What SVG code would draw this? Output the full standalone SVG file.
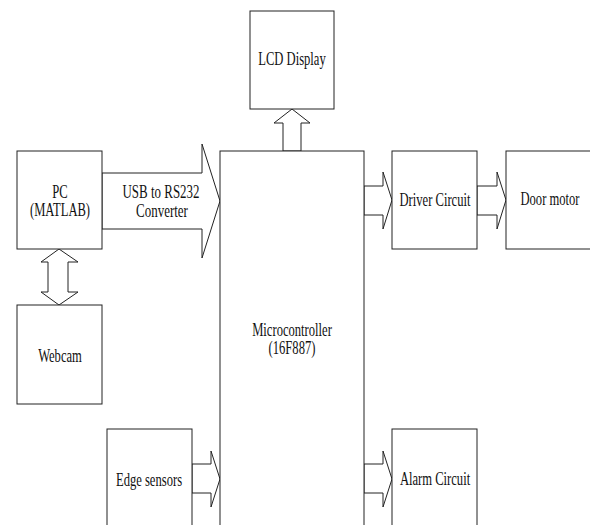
<svg xmlns="http://www.w3.org/2000/svg" width="590" height="525" viewBox="0 0 590 525">
<style>
.box{fill:#fff;stroke:#222;stroke-width:1}
.arr{fill:#fff;stroke:#222;stroke-width:1;stroke-linejoin:miter}
text{font-family:"Liberation Serif","Times New Roman",serif;font-size:18px;fill:#111;text-anchor:middle}
</style>
<rect width="590" height="525" fill="#fff"/>
<g id="connectors">
<polygon class="arr" points="102,173 202,173 202,144 220,201 202,258 202,229 102,229"/>
<polygon class="arr" points="283,151 283,123 274,123 292,109 310,123 301,123 301,151"/>
<polygon class="arr" points="59,249 78,262 68,262 68,292 78,292 59,305 41,292 48,292 48,262 41,262"/>
<polygon class="arr" points="364,186 383,186 383,172 392,200 383,229 383,215 364,215"/>
<polygon class="arr" points="477,186 497,186 497,172 506,200 497,229 497,215 477,215"/>
<polygon class="arr" points="192,464 211,464 211,451 220,479 211,507 211,493 192,493"/>
<polygon class="arr" points="364,464 383,464 383,451 392,479 383,507 383,493 364,493"/>
<text transform="translate(161,198) scale(0.72,1)">USB to RS232</text>
<text transform="translate(162,217) scale(0.72,1)">Converter</text>
</g>
<g id="microcontroller">
<rect class="box" x="220" y="151" width="144" height="400"/>
<text transform="translate(292,336) scale(0.7,1)">Microcontroller</text>
<text transform="translate(292,354) scale(0.7,1)">(16F887)</text>
</g>
<g id="lcd">
<rect class="box" x="250" y="11" width="84" height="98"/>
<text transform="translate(292,65) scale(0.7,1)">LCD Display</text>
</g>
<g id="pc">
<rect class="box" x="17" y="151" width="85" height="98"/>
<text transform="translate(60,198) scale(0.7,1)">PC</text>
<text transform="translate(60,216) scale(0.7,1)">(MATLAB)</text>
</g>
<g id="webcam">
<rect class="box" x="17" y="305" width="85" height="99"/>
<text transform="translate(60,362) scale(0.7,1)">Webcam</text>
</g>
<g id="edge">
<rect class="box" x="107" y="429" width="85" height="120"/>
<text transform="translate(149,486) scale(0.7,1)">Edge sensors</text>
</g>
<g id="driver">
<rect class="box" x="392" y="151" width="85" height="98"/>
<text transform="translate(435,206) scale(0.7,1)">Driver Circuit</text>
</g>
<g id="door">
<rect class="box" x="506" y="151" width="90" height="98"/>
<text transform="translate(550,205) scale(0.7,1)">Door motor</text>
</g>
<g id="alarm">
<rect class="box" x="392" y="429" width="85" height="120"/>
<text transform="translate(435,485) scale(0.7,1)">Alarm Circuit</text>
</g>
</svg>
